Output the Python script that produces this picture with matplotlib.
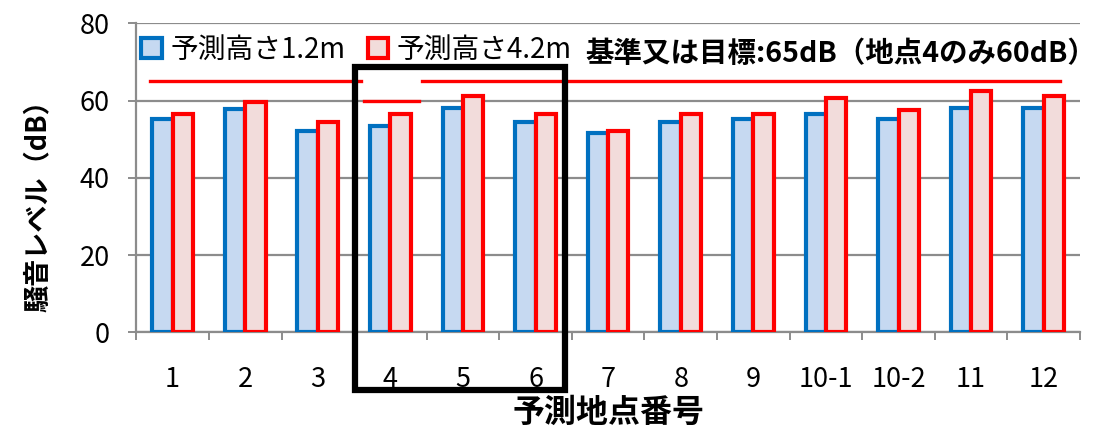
import matplotlib
matplotlib.use("Agg")
import matplotlib.pyplot as plt
from matplotlib.patches import Patch, Rectangle
from matplotlib.ticker import FixedLocator, NullFormatter
import numpy as np

plt.rcParams['font.family'] = ['Noto Sans CJK JP', 'DejaVu Sans']

# 予測地点と騒音レベル（dB）
points = ["1", "2", "3", "4", "5", "6", "7", "8", "9", "10-1", "10-2", "11", "12"]
level_1_2m = [55.3, 57.7, 52.1, 53.4, 58.2, 54.5, 51.6, 54.5, 55.2, 56.5, 55.2, 58.2, 58.2]
level_4_2m = [56.5, 59.5, 54.5, 56.5, 61.2, 56.5, 52.2, 56.5, 56.5, 60.6, 57.6, 62.4, 61.2]

series_names = ["予測高さ1.2m", "予測高さ4.2m"]
y_ticks = [0, 20, 40, 60, 80]

# 基準値（地点4のみ60dB）
standard_general = 65
standard_point4 = 60
note_text = "基準又は目標:65dB（地点4のみ60dB）"

blue_edge, blue_fill = "#0070C0", "#C6D9F1"
red_edge, red_fill = "#FF0000", "#F2DCDB"
grid_col = "#8C8C8C"

fig = plt.figure(figsize=(10.95, 4.34), dpi=100)
ax = fig.add_axes([0.1245, 0.2343, 0.8618, 0.7120])

x = np.arange(len(points))
w = 0.28
ax.bar(x - w / 2, level_1_2m, width=w, facecolor=blue_fill, edgecolor=blue_edge,
       linewidth=3, zorder=3)
ax.bar(x + w / 2, level_4_2m, width=w, facecolor=red_fill, edgecolor=red_edge,
       linewidth=3, zorder=3)

ax.set_xlim(-0.5, len(points) - 0.5)
ax.set_ylim(0, 80)
ax.set_yticks(y_ticks)
ax.yaxis.grid(True, color=grid_col, linewidth=1.6, zorder=0)
ax.set_axisbelow(True)

for s in ["top", "right"]:
    ax.spines[s].set_visible(False)
for s in ["left", "bottom"]:
    ax.spines[s].set_color(grid_col)
    ax.spines[s].set_linewidth(1.6)

ax.tick_params(axis="y", direction="out", length=6, width=1.4, color=grid_col,
               labelsize=19.5, pad=13)
ax.set_xticks(x)
ax.set_xticklabels(points)
ax.tick_params(axis="x", which="major", length=0, labelsize=19.5, pad=24)
ax.xaxis.set_minor_locator(FixedLocator(np.arange(-0.5, len(points), 1.0)))
ax.xaxis.set_minor_formatter(NullFormatter())
ax.tick_params(axis="x", which="minor", direction="out", length=6, width=1.4,
               color=grid_col)

ax.set_ylabel("騒音レベル（dB）", fontsize=19.5, fontweight="bold", labelpad=20,
              y=0.43)
ax.set_xlabel("予測地点番号", fontsize=23, fontweight="bold", labelpad=3)

# 基準値の線
ax.plot([-0.31, 2.59], [standard_general, standard_general], color=red_edge,
        linewidth=2.4, zorder=4, clip_on=False)
ax.plot([2.64, 3.39], [standard_point4, standard_point4], color=red_edge,
        linewidth=2.4, zorder=4, clip_on=False)
ax.plot([3.43, 12.22], [standard_general, standard_general], color=red_edge,
        linewidth=2.4, zorder=4, clip_on=False)

# 地点4〜6の囲み枠
ax.add_patch(Rectangle((2.51, -14.9), 2.9, 83.6, fill=False, edgecolor="black",
                       linewidth=4.5, zorder=5, clip_on=False))

handles = [Patch(facecolor=blue_fill, edgecolor=blue_edge, linewidth=3),
           Patch(facecolor=red_fill, edgecolor=red_edge, linewidth=3)]
fig.legend(handles, series_names, loc="upper left",
           bbox_to_anchor=(141 / 1095, 1 - 35 / 434), ncol=2, frameon=False,
           fontsize=20, handlelength=0.75, handleheight=0.75, handletextpad=0.3,
           columnspacing=0.8, borderpad=0, borderaxespad=0)

fig.text(585 / 1095, 1 - 54 / 434, note_text, fontsize=20.5, fontweight="bold",
         ha="left", va="center")

fig.savefig("out.png", dpi=100)
